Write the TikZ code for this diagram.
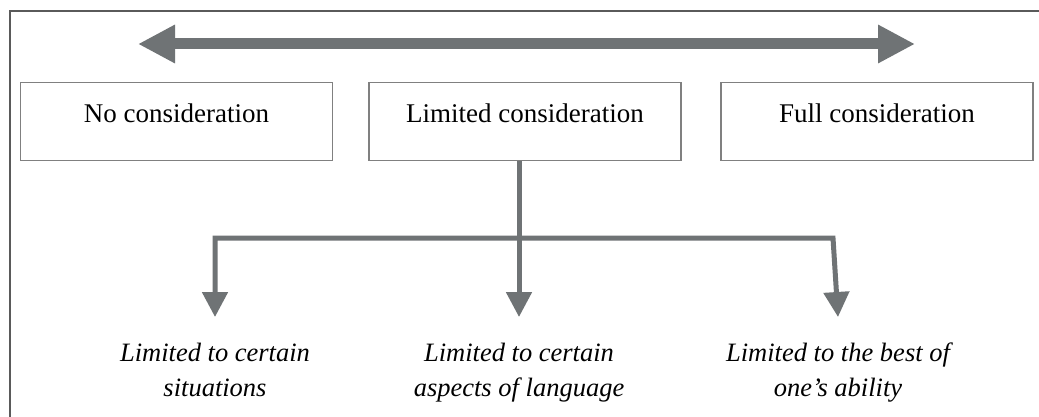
\documentclass[tikz,border=0pt]{standalone}
\usepackage{fontspec}
\setmainfont{Liberation Serif}
\usetikzlibrary{arrows.meta}

\definecolor{arrowgray}{HTML}{6F7375}
\definecolor{boxgray}{HTML}{808080}
\definecolor{framegray}{HTML}{5A5A5A}

\tikzset{
  level/.style={draw=boxgray, line width=1.5pt, rectangle, inner sep=0pt,
    minimum width=312pt, minimum height=78pt, text height=18pt, text depth=15pt,
    font=\fontsize{27}{32}\selectfont},
  kind/.style={align=center, inner sep=0pt, anchor=north,
    font=\fontsize{26.5}{35}\selectfont\itshape},
  scalebar/.style={draw=arrowgray, line width=11pt,
    {Triangle[length=37pt, width=36pt]}-{Triangle[length=37pt, width=36pt]}},
  branch/.style={draw=arrowgray, line width=5pt, line join=miter},
  branchtip/.style={-{Triangle[length=25pt, width=25pt]}},
}

\begin{document}
\begin{tikzpicture}[x=1pt, y=-1pt]
\useasboundingbox (0,0) rectangle (1039,417);
\fill[white] (0,0) rectangle (1039,417);
% outer frame (only top and left edges show)
\draw[framegray, line width=1.5pt] (10,417) -- (10,11) -- (1039,11);

% the three levels
\node[level] (none)    at (176.5,121.5) {No consideration};
\node[level] (limited) at (525,121.5)   {Limited consideration};
\node[level] (full)    at (877,121.5)   {Full consideration};

% scale arrow above the boxes
\coordinate (scaleL) at (138,44);
\coordinate (scaleR) at (915,44);
\draw[scalebar] (scaleL) -- (scaleR);

% branching below limited consideration
\coordinate (split)  at (519,238);
\coordinate (splitL) at (215,238);
\coordinate (splitR) at (833,238);
\coordinate (tipL)   at (215,317);
\coordinate (tipM)   at (519,317);
\coordinate (tipR)   at (838,317);
\draw[branch, {Triangle[length=25pt, width=25pt]}-{Triangle[length=25pt, width=25pt]}]
  (tipL) -- (splitL) -- (splitR) -- (tipR);
\draw[branch, branchtip] (split |- limited.south) -- (tipM);

\node[kind] (situations) at (215,343) {Limited to certain\\situations};
\node[kind] (aspects)    at (519,343) {Limited to certain\\aspects of language};
\node[kind] (ability)    at (838,343) {Limited to the best of\\one’s ability};
\end{tikzpicture}
\end{document}
